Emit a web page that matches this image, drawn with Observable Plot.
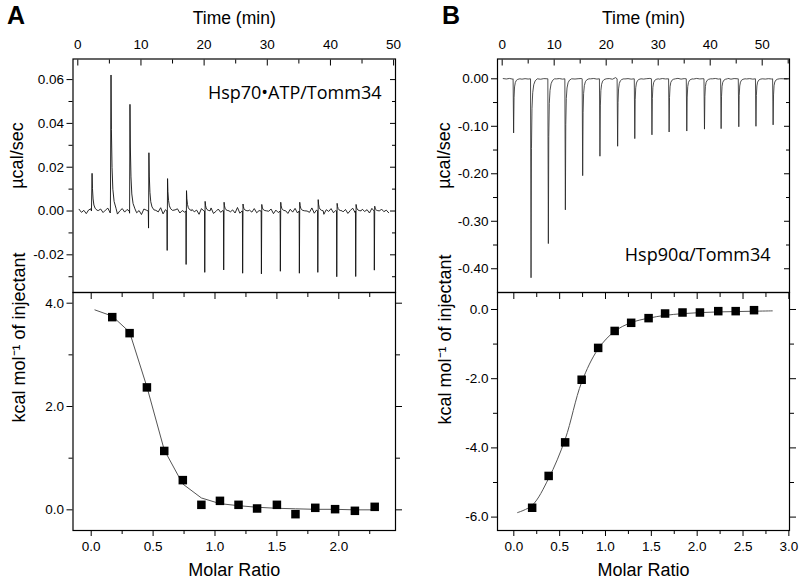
<!DOCTYPE html>
<html><head><meta charset="utf-8">
<script src="https://cdn.jsdelivr.net/npm/d3@7"></script>
<script src="https://cdn.jsdelivr.net/npm/@observablehq/plot@0.6"></script>
<style>
body{margin:0;background:#fff;}
#wrap{position:relative;width:800px;height:580px;overflow:hidden;background:#fff;}
.letter{position:absolute;font-weight:bold;font-size:25px;font-family:"Liberation Sans",Arial,sans-serif;line-height:1;color:#000;}
</style></head><body>
<div id="wrap">
<div class="letter" style="left:7px;top:3px">A</div>
<div class="letter" style="left:442px;top:3px">B</div>
</div>
<script>
// ---------- text ----------
const timeTitle = "Time (min)";
const rateTitle = "µcal/sec";
const ratioTitle = "Molar Ratio";
const heatTitle = "kcal mol⁻¹ of injectant";
const labelA = "Hsp70•ATP/Tomm34";
const labelB = "Hsp90α/Tomm34";

// ---------- tick values ----------
const timeTicksA = [0, 10, 20, 30, 40, 50];
const timeMinorA = [5, 15, 25, 35, 45];
const rateTicksA = [-0.02, 0, 0.02, 0.04, 0.06];
const rateMinorA = [-0.03, -0.01, 0.01, 0.03, 0.05];
const ratioTicksA = [0, 0.5, 1.0, 1.5, 2.0];
const ratioMinorA = [0.25, 0.75, 1.25, 1.75, 2.25];
const heatTicksA = [0, 2, 4];
const heatMinorA = [1, 3];

const timeTicksB = [0, 10, 20, 30, 40, 50];
const timeMinorB = [5, 15, 25, 35, 45, 55];
const rateTicksB = [0, -0.1, -0.2, -0.3, -0.4];
const rateMinorB = [-0.05, -0.15, -0.25, -0.35];
const ratioTicksB = [0, 0.5, 1.0, 1.5, 2.0, 2.5, 3.0];
const ratioMinorB = [0.25, 0.75, 1.25, 1.75, 2.25, 2.75];
const heatTicksB = [0, -2, -4, -6];
const heatMinorB = [-1, -3, -5];

// ---------- Panel A raw thermogram ----------
const injTimeA  = [2.2, 5.2, 8.2, 11.2, 14.15, 17.15, 20.1, 23.1, 26.1, 29.07, 32.07, 35.08, 38.0, 41.0, 44.0, 46.95];
const peakUpA   = [0.0172, 0.0621, 0.0487, 0.0266, 0.0148, 0.0093, 0.0044, 0.0040, 0.0032, 0.0030, 0.0040, 0.0040, 0.0052, 0.0035, 0.0030, 0.0022];
const peakDownA = [0, 0, -0.001, -0.0078, -0.0180, -0.0244, -0.0280, -0.0269, -0.0284, -0.0287, -0.0275, -0.0284, -0.0280, -0.0300, -0.0299, -0.0270];
const peakOffsetA = [0.06, 0.12, 0.22, 0.35, 0.55, 0.85];
const peakShareA  = [1, 0.6, 0.32, 0.16, 0.07, 0.02];
const noiseStartA = 0.2, noiseStepA = 0.38;
const noiseA = [0.8,-0.6,0.3,-1.2,0.5,1.0,-0.4,-1.5,0.2,0.9,
 -0.7,0.4,1.3,-0.9,-0.2,0.6,-1.4,0.1,1.1,-0.5,
 0.7,-1.1,-0.3,1.4,-0.8,0.2,-1.6,0.9,0.4,-0.6,
 1.2,-1.0,0.3,-0.4,1.5,-1.3,0.6,-0.2,0.8,-1.7,
 0.5,1.0,-0.9,0.2,-0.5,1.3,-1.2,0.7,-0.3,0.4,
 -1.5,1.1,0.0,-0.8,0.6,1.4,-1.1,-0.2,0.9,-0.6,
 0.3,-1.4,1.2,-0.4,0.5,-0.9,1.6,-1.0,0.1,0.7,
 -1.3,0.4,-0.5,1.1,-0.8,0.2,1.3,-1.6,0.6,-0.1,
 0.9,-1.2,0.4,-0.7,1.5,-0.3,0.2,-1.1,0.8,-0.5,
 1.2,-0.9,0.3,-1.4,0.7,0.0,-0.6,1.4,-1.0,0.5,
 -0.3,0.9,-1.5,0.6,-0.2,1.1,-0.8,0.3,-1.2,1.0,
 -0.4,0.7,-1.1,0.2,1.3,-0.7,0.5,-1.3,0.8,-0.2,
 0.6,-0.9,1.2,-0.5,0.1,-1.0,0.9,-0.3,0.4,-0.8];

// ---------- Panel B raw thermogram ----------
const injTimeB = [2.1, 5.45, 8.78, 12.05, 15.38, 18.7, 22.1, 25.4, 28.7, 32.0, 35.4, 38.8, 42.0, 45.4, 48.7, 52.0];
const peakB    = [-0.114, -0.419, -0.347, -0.276, -0.204, -0.163, -0.142, -0.126, -0.118, -0.112, -0.110, -0.106, -0.105, -0.101, -0.100, -0.097];
const peakOffsetB = [0.0, 0.1, 0.18, 0.28, 0.42, 0.62, 0.9, 1.3];
const peakShareB  = [0, 1, 0.35, 0.15, 0.07, 0.03, 0.01, 0];
const noiseStartB = 0.2, noiseStepB = 0.6;
const noiseB = [0.5,-0.4,0.8,-0.6,0.2,0.9,-0.8,0.3,-0.5,0.7,
 -0.3,0.6,-0.9,0.4,0.1,-0.6,0.8,-0.2,0.5,-0.7,
 0.3,-0.4,0.9,-0.5,0.2,0.6,-0.8,0.4,-0.1,0.7,
 -0.6,0.3,0.8,-0.4,0.5,-0.9,2.5,1.8,0.6,-0.3,
 0.4,-0.7,0.9,-0.2,0.5,-0.6,0.3,0.8,-0.5,0.2,
 -0.8,0.6,-0.3,0.7,-0.4,0.1,0.9,-0.7,0.4,-0.2,
 0.6,-0.5,0.8,-0.3,0.2,-0.9,0.5,-0.1,0.7,-0.6,
 0.3,-0.4,0.9,-0.8,0.5,0.1,-0.5,0.6,-0.3,0.4,
 -0.7,0.8,-0.2,0.5,-0.6,0.3,-0.4,0.7,-0.1,0.2,0.0,-0.3];

// ---------- isotherms ----------
const ratioA = [0.17, 0.31, 0.45, 0.59, 0.74, 0.89, 1.04, 1.19, 1.34, 1.50, 1.65, 1.81, 1.97, 2.13, 2.29];
const heatA  = [3.73, 3.42, 2.37, 1.14, 0.575, 0.097, 0.174, 0.097, 0.026, 0.097, -0.084, 0.039, 0.013, -0.019, 0.058];
const fitRatioA = [0.03, 0.17, 0.31, 0.45, 0.59, 0.74, 0.89, 1.04, 1.19, 1.34, 1.50, 1.65, 1.81, 1.97, 2.13, 2.29];
const fitHeatA  = [3.87, 3.75, 3.44, 2.38, 1.16, 0.50, 0.23, 0.12, 0.08, 0.05, 0.03, 0.02, 0.01, 0.01, 0.0, 0.0];

const ratioB = [0.20, 0.38, 0.56, 0.74, 0.92, 1.10, 1.28, 1.47, 1.65, 1.84, 2.03, 2.23, 2.42, 2.62];
const heatB  = [-5.73, -4.81, -3.84, -2.03, -1.11, -0.62, -0.385, -0.25, -0.116, -0.087, -0.087, -0.048, -0.048, -0.02];
const fitRatioB = [0.04, 0.20, 0.38, 0.56, 0.74, 0.92, 1.10, 1.28, 1.47, 1.65, 1.84, 2.03, 2.23, 2.42, 2.62, 2.82];
const fitHeatB  = [-5.87, -5.66, -4.88, -3.75, -2.10, -1.14, -0.63, -0.38, -0.25, -0.17, -0.12, -0.09, -0.07, -0.06, -0.05, -0.04];

// ---------- build tables ----------
function buildTrace(inj, noise, start, step, scale, windowEnd, addSpike) {
  const out = [];
  noise.forEach((v, i) => {
    const t = start + i * step;
    if (!inj.some(t0 => t > t0 - 0.05 && t < t0 + windowEnd)) out.push({t, v: v * scale});
  });
  inj.forEach((t0, i) => addSpike(out, t0, i));
  return out.sort((a, b) => a.t - b.t);
}
const traceA = buildTrace(injTimeA, noiseA, noiseStartA, noiseStepA, 0.001, 0.9, (out, t0, i) => {
  out.push({t: t0 - 0.04, v: 0});
  if (peakDownA[i]) out.push({t: t0, v: peakDownA[i]});
  peakOffsetA.forEach((dt, j) => out.push({t: t0 + dt, v: peakUpA[i] * peakShareA[j]}));
});
const traceB = buildTrace(injTimeB, noiseB, noiseStartB, noiseStepB, 0.001, 1.35, (out, t0, i) => {
  peakOffsetB.forEach((dt, j) => out.push({t: t0 + dt, v: peakB[i] * peakShareB[j]}));
});
const pointsA = ratioA.map((r, i) => ({r, h: heatA[i]}));
const fitA = fitRatioA.map((r, i) => ({r, h: fitHeatA[i]}));
const pointsB = ratioB.map((r, i) => ({r, h: heatB[i]}));
const fitB = fitRatioB.map((r, i) => ({r, h: fitHeatB[i]}));

// ---------- helpers ----------
const wrap = document.getElementById("wrap");
const fmt2 = d => d.toFixed(2), fmt1 = d => d.toFixed(1), blank = () => "";
const baseStyle = {fontFamily: '"Liberation Sans", Arial, sans-serif', fontSize: "13.5px", color: "#000", background: "transparent", overflow: "visible"};
const annoFont = '"Open Sans", "Noto Sans", sans-serif';
function place(node, left, top) {
  node.style.position = "absolute"; node.style.left = left + "px"; node.style.top = top + "px";
  wrap.appendChild(node);
}
const frame = () => Plot.frame({stroke: "#000", strokeWidth: 1.2});
const title = (t, o) => Plot.text([t], {text: d => d, fill: "#000", fontSize: 18, ...o});

// ---------- A top ----------
place(Plot.plot({
  width: 400, height: 292, marginTop: 58.5, marginBottom: 0, marginLeft: 72.5, marginRight: 5,
  style: baseStyle,
  x: {domain: [-0.76, 50.3]},
  y: {domain: [-0.0372, 0.0694]},
  marks: [
    Plot.line(traceA, {x: "t", y: "v", stroke: "#111", strokeWidth: 0.9}),
    frame(),
    Plot.axisX(timeTicksA, {anchor: "top", tickSize: 0, tickPadding: 10, label: null}),
    Plot.axisX(timeTicksA, {anchor: "top", tickSize: -6, tickFormat: blank, label: null}),
    Plot.axisX(timeMinorA, {anchor: "top", tickSize: -4, tickFormat: blank, label: null}),
    Plot.axisY(rateTicksA, {anchor: "left", tickSize: 6, tickPadding: 3, tickFormat: fmt2, label: null}),
    Plot.axisY(rateMinorA, {anchor: "left", tickSize: 4, tickFormat: blank, label: null}),
    Plot.axisY(rateTicksA, {anchor: "right", tickSize: -6, tickFormat: blank, label: null}),
    Plot.axisY(rateMinorA, {anchor: "right", tickSize: -4, tickFormat: blank, label: null}),
    title(timeTitle, {frameAnchor: "top", dy: -47, fontSize: 17.5}),
    title(rateTitle, {frameAnchor: "left", dx: -55.5, dy: 13, rotate: -90}),
    title(labelA, {frameAnchor: "top-right", dx: -14, dy: 27, textAnchor: "end", fontFamily: annoFont})
  ]
}), 0, 0);

// ---------- A bottom ----------
place(Plot.plot({
  width: 400, height: 300, marginTop: 12, marginBottom: 50, marginLeft: 72.5, marginRight: 5,
  style: baseStyle,
  x: {domain: [-0.147, 2.458]},
  y: {domain: [-0.40, 4.207]},
  marks: [
    Plot.line(fitA, {x: "r", y: "h", stroke: "#555", strokeWidth: 1}),
    Plot.dot(pointsA, {x: "r", y: "h", symbol: "square", r: 4.8, fill: "#000"}),
    frame(),
    Plot.axisX(ratioTicksA, {anchor: "bottom", tickSize: 6, tickPadding: 5, tickFormat: fmt1, label: null}),
    Plot.axisX(ratioMinorA, {anchor: "bottom", tickSize: 4, tickFormat: blank, label: null}),
    Plot.axisX(ratioTicksA, {anchor: "top", tickSize: -6, tickFormat: blank, label: null}),
    Plot.axisX(ratioMinorA, {anchor: "top", tickSize: -4, tickFormat: blank, label: null}),
    Plot.axisY(heatTicksA, {anchor: "left", tickSize: 6, tickPadding: 3, tickFormat: fmt1, label: null}),
    Plot.axisY(heatMinorA, {anchor: "left", tickSize: 4, tickFormat: blank, label: null}),
    Plot.axisY(heatTicksA, {anchor: "right", tickSize: 6, tickFormat: blank, label: null}),
    Plot.axisY(heatMinorA, {anchor: "right", tickSize: 4, tickFormat: blank, label: null}),
    title(ratioTitle, {frameAnchor: "bottom", dy: 45}),
    title(heatTitle, {frameAnchor: "left", dx: -53.5, dy: 11, rotate: -90})
  ]
}), 0, 280);

// ---------- B top ----------
place(Plot.plot({
  width: 400, height: 292, marginTop: 58.5, marginBottom: 0, marginLeft: 97, marginRight: 11,
  style: baseStyle,
  x: {domain: [-0.9, 55.25]},
  y: {domain: [-0.45, 0.0417]},
  marks: [
    Plot.line(traceB, {x: "t", y: "v", stroke: "#222", strokeWidth: 0.8}),
    frame(),
    Plot.axisX(timeTicksB, {anchor: "top", tickSize: 0, tickPadding: 10, label: null}),
    Plot.axisX(timeTicksB, {anchor: "top", tickSize: -6, tickFormat: blank, label: null}),
    Plot.axisX(timeMinorB, {anchor: "top", tickSize: -4, tickFormat: blank, label: null}),
    Plot.axisY(rateTicksB, {anchor: "left", tickSize: 6, tickPadding: 3, tickFormat: fmt2, label: null}),
    Plot.axisY(rateMinorB, {anchor: "left", tickSize: 4, tickFormat: blank, label: null}),
    Plot.axisY(rateTicksB, {anchor: "right", tickSize: -6, tickFormat: blank, label: null}),
    Plot.axisY(rateMinorB, {anchor: "right", tickSize: -4, tickFormat: blank, label: null}),
    title(timeTitle, {frameAnchor: "top", dy: -47, fontSize: 17.5}),
    title(rateTitle, {frameAnchor: "left", dx: -53.5, dy: 13, rotate: -90}),
    title(labelB, {frameAnchor: "bottom-right", dx: -19, dy: -32, textAnchor: "end", fontFamily: annoFont})
  ]
}), 400, 0);

// ---------- B bottom ----------
place(Plot.plot({
  width: 400, height: 300, marginTop: 12, marginBottom: 50, marginLeft: 97, marginRight: 11,
  style: baseStyle,
  x: {domain: [-0.178, 3.007]},
  y: {domain: [-6.387, 0.491]},
  marks: [
    Plot.line(fitB, {x: "r", y: "h", stroke: "#555", strokeWidth: 1, curve: "catmull-rom"}),
    Plot.dot(pointsB, {x: "r", y: "h", symbol: "square", r: 4.8, fill: "#000"}),
    frame(),
    Plot.axisX(ratioTicksB, {anchor: "bottom", tickSize: 6, tickPadding: 5, tickFormat: fmt1, label: null}),
    Plot.axisX(ratioMinorB, {anchor: "bottom", tickSize: 4, tickFormat: blank, label: null}),
    Plot.axisX(ratioTicksB, {anchor: "top", tickSize: -6, tickFormat: blank, label: null}),
    Plot.axisX(ratioMinorB, {anchor: "top", tickSize: -4, tickFormat: blank, label: null}),
    Plot.axisY(heatTicksB, {anchor: "left", tickSize: 6, tickPadding: 3, tickFormat: fmt1, label: null}),
    Plot.axisY(heatMinorB, {anchor: "left", tickSize: 4, tickFormat: blank, label: null}),
    Plot.axisY(heatTicksB, {anchor: "right", tickSize: 6, tickFormat: blank, label: null}),
    Plot.axisY(heatMinorB, {anchor: "right", tickSize: 4, tickFormat: blank, label: null}),
    title(ratioTitle, {frameAnchor: "bottom", dy: 45}),
    title(heatTitle, {frameAnchor: "left", dx: -52, dy: 13, rotate: -90})
  ]
}), 400, 280);
</script>
</body></html>
